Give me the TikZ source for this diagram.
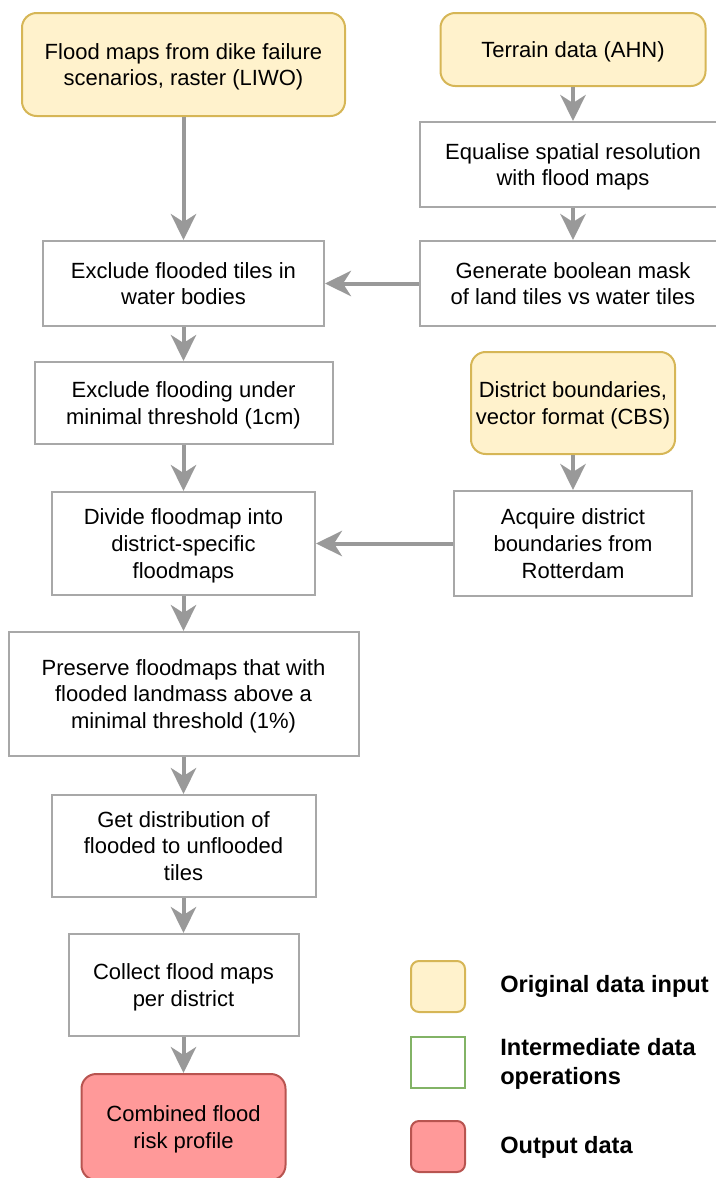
\documentclass[tikz,border=0pt]{standalone}
\usepackage{fontspec}
\setmainfont{Liberation Sans}
\usetikzlibrary{arrows.meta}
\definecolor{yfill}{HTML}{FFF2CC}
\definecolor{ydraw}{HTML}{D6B656}
\definecolor{rfill}{HTML}{FF9999}
\definecolor{rdraw}{HTML}{B85450}
\definecolor{gdraw}{HTML}{82B366}
\definecolor{boxgray}{HTML}{A8A8A8}
\definecolor{arrgray}{HTML}{999999}
\begin{document}
\begin{tikzpicture}[x=0.75pt,y=-0.75pt,
  box/.style={draw=boxgray, line width=1.5pt, fill=white, align=center, inner sep=0pt,
    text depth=0pt, font=\fontsize{16.5}{19.9}\selectfont},
  inbox/.style={box, draw=ydraw, fill=yfill, rounded corners=11pt},
  outbox/.style={box, draw=rdraw, fill=rfill, rounded corners=11pt},
  sz/.style 2 args={minimum width=#1*0.75pt, minimum height=#2*0.75pt},
  arr/.style={draw=arrgray, line width=3pt, -{Stealth[length=19.5pt,width=19pt,inset=6pt]}},
  legbox/.style={line width=1.5pt, rounded corners=6pt, minimum width=40.5pt, minimum height=38.25pt, inner sep=0pt},
  legtext/.style={anchor=west, align=left, inner sep=0pt, font=\bfseries\fontsize{17.7}{21.75}\selectfont}]
\useasboundingbox (0,0) rectangle (715,1178);
% left column
\node[inbox, sz={323}{103}] (a) at (183.5,64.5) {Flood maps from dike failure\\scenarios, raster (LIWO)};
\node[box, sz={281}{85}] (d) at (183.5,283.5) {Exclude flooded tiles in\\water bodies};
\node[box, sz={298}{82}] (f) at (183.5,403) {Exclude flooding under\\minimal threshold (1cm)};
\node[box, sz={263}{103}] (h) at (183.5,543.5) {Divide floodmap into\\district-specific\\floodmaps};
\node[box, sz={350}{124}] (j) at (183.5,694) {Preserve floodmaps that with\\flooded landmass above a\\minimal threshold (1\%)};
\node[box, sz={264}{102}] (k) at (183.5,846) {Get distribution of\\flooded to unflooded\\tiles};
\node[box, sz={230}{102}] (l) at (183.5,985) {Collect flood maps\\per district};
\node[outbox, sz={204}{106}] (m) at (183.5,1127) {Combined flood\\risk profile};
% right column
\node[inbox, sz={265}{73}] (b) at (573,49.5) {Terrain data (AHN)};
\node[box, sz={306}{85}] (c) at (573,164.5) {Equalise spatial resolution\\with flood maps};
\node[box, sz={306}{85}] (e) at (573,283.5) {Generate boolean mask\\of land tiles vs water tiles};
\node[inbox, sz={204}{102}] (g) at (573,403) {District boundaries,\\vector format (CBS)};
\node[box, sz={238}{105}] (i) at (573,543.5) {Acquire district\\boundaries from\\Rotterdam};
% connectors
\draw[arr] (a) -- (d);
\draw[arr] (b) -- (c);
\draw[arr] (c) -- (e);
\draw[arr] (e) -- (d);
\draw[arr] (d) -- (f);
\draw[arr] (f) -- (h);
\draw[arr] (g) -- (i);
\draw[arr] (i) -- (h);
\draw[arr] (h) -- (j);
\draw[arr] (j) -- (k);
\draw[arr] (k) -- (l);
\draw[arr] (l) -- (m);
% legend
\node[legbox, draw=ydraw, fill=yfill] (ly) at (438,986.5) {};
\node[legbox, draw=gdraw, fill=white, rounded corners=0pt] (lg) at (438,1062.5) {};
\node[legbox, draw=rdraw, fill=rfill] (lr) at (438,1146.5) {};
\node[legtext] (lyt) at (500,986) {Original data input};
\node[legtext] (lgt) at (500,1064) {Intermediate data\\operations};
\node[legtext] (lrt) at (500,1147) {Output data};
\end{tikzpicture}
\end{document}
